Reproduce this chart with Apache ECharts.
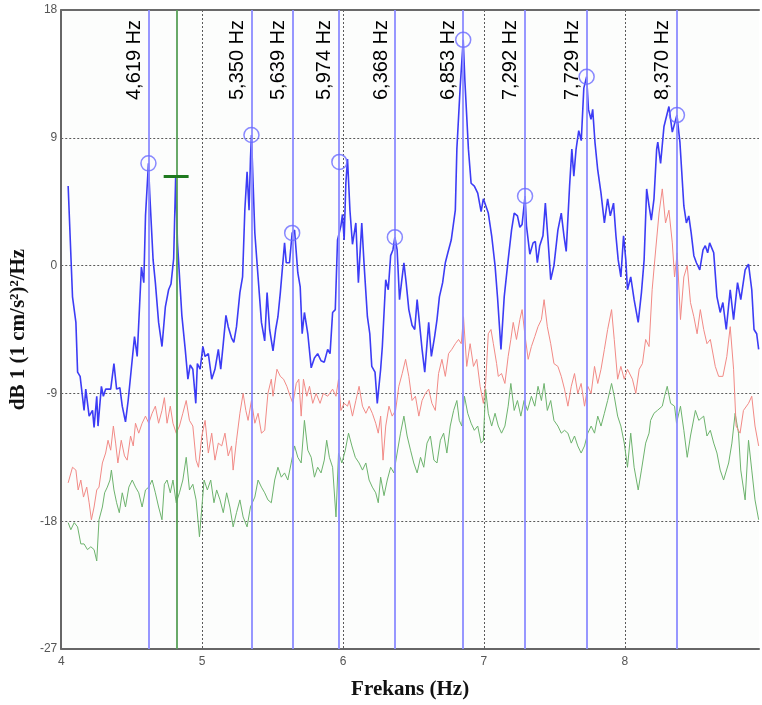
<!DOCTYPE html>
<html>
<head>
<meta charset="utf-8">
<script src="https://cdn.jsdelivr.net/npm/echarts@6/dist/echarts.min.js"></script>
<style>
html,body{margin:0;padding:0;background:#ffffff;}
#chart{width:762px;height:705px;}
</style>
</head>
<body>
<div id="chart"></div>
<script>
// Frequency axis ticks (Hz) and level ticks (dB)
const xTicks = [4, 5, 6, 7, 8];
const yTicks = [-27, -18, -9, 0, 9, 18];

// Picked spectral peaks
const peakFreqs = [4.619, 5.350, 5.639, 5.974, 6.368, 6.853, 7.292, 7.729, 8.370];
const peakDb    = [7.2, 9.2, 2.3, 7.3, 2.0, 15.9, 4.9, 13.3, 10.6];

// Cursor
const cursorFreq = 4.816;
const cursorDb = 6.3;
const cursorSpan = [4.727, 4.904];

// Spectrum traces: [frequency Hz, level dB]
const blueTrace = [
[4.049,5.6],[4.080,-2.2],[4.104,-4.0],[4.116,-7.5],[4.134,-7.8],[4.162,-10.2],[4.174,-8.7],[4.198,-10.6],
[4.222,-10.2],[4.233,-11.4],[4.252,-9.2],[4.261,-11.3],[4.285,-8.5],[4.299,-9.2],[4.315,-8.7],[4.351,-8.7],
[4.374,-6.9],[4.393,-8.7],[4.416,-8.6],[4.433,-9.9],[4.456,-11.0],[4.475,-9.5],[4.497,-7.3],[4.520,-5.0],
[4.539,-6.4],[4.557,-2.6],[4.569,-0.1],[4.586,-1.2],[4.598,3.5],[4.619,7.2],[4.628,5.1],[4.652,0.4],
[4.668,-1.2],[4.691,-4.0],[4.715,-5.7],[4.739,-2.9],[4.762,-1.7],[4.779,-1.3],[4.798,0.5],[4.812,6.2],
[4.825,1.6],[4.856,-3.5],[4.880,-5.9],[4.899,-8.0],[4.915,-7.0],[4.934,-7.3],[4.955,-9.7],[4.966,-6.9],
[4.986,-7.3],[5.005,-5.7],[5.021,-6.4],[5.044,-6.2],[5.068,-8.0],[5.091,-7.3],[5.115,-5.9],[5.132,-7.3],
[5.150,-5.5],[5.169,-3.5],[5.185,-4.3],[5.209,-5.1],[5.225,-5.4],[5.244,-4.3],[5.268,-1.9],[5.287,-0.8],
[5.303,3.9],[5.319,6.6],[5.333,3.9],[5.343,7.5],[5.350,9.2],[5.374,2.3],[5.397,-0.8],[5.421,-4.0],
[5.444,-5.3],[5.461,-1.9],[5.479,-4.5],[5.503,-6.0],[5.522,-4.5],[5.538,-3.6],[5.555,-1.9],[5.585,1.6],
[5.597,0.2],[5.620,0.2],[5.639,2.3],[5.656,2.5],[5.679,-0.5],[5.696,-1.5],[5.710,-4.8],[5.726,-3.3],
[5.750,-4.8],[5.774,-7.2],[5.797,-6.5],[5.820,-6.2],[5.844,-6.7],[5.867,-6.8],[5.891,-5.9],[5.908,-6.2],
[5.926,-3.3],[5.945,-3.1],[5.961,1.8],[5.985,2.8],[5.996,3.6],[6.008,1.8],[6.020,5.8],[6.032,7.5],
[6.049,3.9],[6.067,1.5],[6.091,3.0],[6.109,-1.2],[6.133,3.0],[6.150,0.0],[6.173,-3.6],[6.190,-4.8],
[6.204,-7.1],[6.227,-7.5],[6.243,-9.7],[6.267,-7.3],[6.279,-5.7],[6.303,-1.0],[6.321,-1.7],[6.338,0.7],
[6.354,1.1],[6.368,2.0],[6.384,1.1],[6.401,-2.4],[6.415,-1.2],[6.432,0.2],[6.448,-1.2],[6.467,-3.1],
[6.490,-4.2],[6.509,-4.5],[6.526,-2.4],[6.542,-4.0],[6.561,-5.9],[6.580,-7.5],[6.608,-4.0],[6.627,-6.4],
[6.650,-5.0],[6.667,-3.8],[6.684,-2.2],[6.707,-1.2],[6.726,0.2],[6.744,0.9],[6.768,1.8],[6.797,3.9],
[6.808,8.2],[6.831,12.5],[6.853,15.9],[6.865,13.0],[6.890,8.2],[6.909,5.8],[6.932,5.6],[6.956,5.1],
[6.980,3.8],[6.996,4.7],[7.031,3.7],[7.055,2.1],[7.079,0.0],[7.097,-2.3],[7.121,-5.9],[7.144,-2.2],
[7.172,0.4],[7.196,2.5],[7.215,3.7],[7.238,3.5],[7.255,2.7],[7.271,2.9],[7.292,4.9],[7.302,2.8],
[7.326,0.8],[7.349,1.6],[7.365,1.7],[7.379,0.2],[7.396,1.4],[7.419,2.1],[7.436,4.4],[7.455,1.8],
[7.474,-1.0],[7.497,0.0],[7.525,2.5],[7.549,3.7],[7.568,2.1],[7.584,1.0],[7.608,5.6],[7.624,8.2],
[7.638,6.3],[7.654,8.2],[7.673,9.5],[7.691,8.8],[7.709,12.5],[7.729,13.3],[7.742,11.0],[7.760,10.3],
[7.772,11.0],[7.788,8.7],[7.807,6.8],[7.831,5.1],[7.855,3.0],[7.878,4.7],[7.897,3.5],[7.920,4.4],
[7.937,2.1],[7.953,0.4],[7.972,-0.8],[7.991,2.1],[8.007,0.4],[8.019,-1.7],[8.042,-0.8],[8.066,-2.4],
[8.095,-4.0],[8.118,-1.9],[8.137,0.4],[8.155,5.4],[8.172,4.2],[8.188,3.2],[8.207,4.7],[8.226,8.2],
[8.234,8.7],[8.254,7.2],[8.278,9.8],[8.313,11.2],[8.337,9.4],[8.370,10.6],[8.391,8.7],[8.419,4.2],
[8.437,3.0],[8.454,3.5],[8.471,2.3],[8.490,0.7],[8.508,0.2],[8.532,-0.3],[8.555,1.1],[8.571,1.4],
[8.588,0.9],[8.602,1.6],[8.631,0.9],[8.654,-2.2],[8.677,-3.3],[8.696,-2.6],[8.720,-4.5],[8.748,-1.7],
[8.772,-3.8],[8.800,-1.2],[8.823,-2.4],[8.854,-0.3],[8.878,0.1],[8.901,-1.7],[8.917,-4.5],[8.936,-4.8],
[8.950,-5.9]
];

const redTrace = [
[4.049,-15.3],[4.080,-14.2],[4.104,-14.4],[4.120,-15.8],[4.139,-15.1],[4.158,-16.3],[4.181,-15.6],[4.198,-16.7],
[4.214,-17.9],[4.233,-17.0],[4.252,-15.8],[4.268,-15.6],[4.292,-13.9],[4.315,-13.2],[4.332,-12.3],[4.351,-13.0],
[4.370,-11.3],[4.386,-12.5],[4.402,-13.9],[4.426,-12.3],[4.449,-13.4],[4.468,-13.7],[4.492,-12.0],[4.511,-12.7],
[4.527,-11.1],[4.550,-11.8],[4.574,-11.1],[4.598,-10.6],[4.621,-11.1],[4.645,-10.4],[4.668,-9.9],[4.691,-11.1],
[4.715,-10.2],[4.732,-9.3],[4.751,-11.1],[4.774,-9.9],[4.793,-11.1],[4.816,-11.8],[4.839,-11.3],[4.863,-10.4],
[4.887,-9.5],[4.910,-10.9],[4.934,-11.3],[4.957,-13.7],[4.974,-14.2],[4.998,-12.0],[5.021,-10.9],[5.044,-13.2],
[5.068,-11.8],[5.091,-13.7],[5.115,-12.5],[5.139,-12.7],[5.162,-11.8],[5.185,-13.4],[5.209,-12.7],[5.220,-14.4],
[5.244,-12.3],[5.268,-10.4],[5.291,-9.0],[5.310,-10.2],[5.326,-10.9],[5.350,-9.5],[5.374,-11.1],[5.397,-10.4],
[5.421,-11.8],[5.444,-11.6],[5.467,-9.0],[5.491,-8.0],[5.503,-9.2],[5.531,-7.3],[5.555,-7.8],[5.578,-8.0],
[5.601,-8.5],[5.625,-9.2],[5.644,-9.7],[5.668,-8.3],[5.686,-8.0],[5.703,-10.6],[5.719,-8.0],[5.743,-9.2],
[5.762,-8.5],[5.785,-9.7],[5.809,-9.0],[5.837,-9.7],[5.860,-9.0],[5.891,-9.2],[5.926,-8.7],[5.950,-9.2],
[5.968,-8.0],[5.985,-10.2],[6.008,-9.7],[6.032,-9.9],[6.044,-9.5],[6.067,-10.6],[6.091,-9.5],[6.114,-8.5],
[6.138,-9.9],[6.162,-10.4],[6.185,-9.9],[6.208,-10.4],[6.232,-11.1],[6.250,-11.8],[6.267,-10.6],[6.284,-13.7],
[6.303,-11.3],[6.326,-9.9],[6.349,-10.6],[6.373,-10.2],[6.396,-8.5],[6.420,-7.6],[6.444,-6.6],[6.467,-7.8],
[6.490,-9.5],[6.514,-9.2],[6.538,-10.6],[6.561,-9.5],[6.585,-9.0],[6.608,-8.7],[6.631,-9.7],[6.655,-10.2],
[6.678,-7.6],[6.702,-6.6],[6.726,-7.8],[6.749,-6.2],[6.772,-5.9],[6.797,-5.5],[6.820,-5.2],[6.839,-5.5],
[6.855,-3.6],[6.878,-7.1],[6.902,-5.5],[6.926,-7.1],[6.949,-6.6],[6.973,-8.5],[6.996,-9.7],[7.012,-8.3],
[7.031,-4.8],[7.050,-4.5],[7.067,-5.5],[7.090,-6.9],[7.102,-7.8],[7.125,-7.6],[7.149,-8.3],[7.172,-6.4],
[7.191,-5.2],[7.208,-4.0],[7.231,-5.2],[7.255,-3.8],[7.271,-3.1],[7.290,-4.8],[7.314,-6.6],[7.337,-5.7],
[7.361,-5.0],[7.384,-4.3],[7.408,-3.8],[7.427,-2.4],[7.450,-4.3],[7.474,-5.5],[7.497,-6.9],[7.525,-7.1],
[7.549,-7.8],[7.572,-8.7],[7.596,-9.9],[7.620,-8.5],[7.643,-7.6],[7.666,-9.0],[7.690,-8.3],[7.714,-9.9],
[7.737,-8.5],[7.761,-9.0],[7.785,-7.1],[7.808,-8.3],[7.831,-7.3],[7.855,-5.9],[7.878,-4.5],[7.906,-3.1],
[7.925,-5.2],[7.949,-8.0],[7.972,-7.1],[7.996,-8.0],[8.019,-7.3],[8.054,-8.0],[8.078,-9.0],[8.102,-7.3],
[8.125,-6.9],[8.148,-5.2],[8.172,-5.7],[8.194,-1.7],[8.219,1.1],[8.243,3.7],[8.266,5.4],[8.289,3.0],
[8.313,3.9],[8.337,1.6],[8.353,-0.8],[8.372,0.9],[8.395,-3.8],[8.419,-0.8],[8.443,0.0],[8.466,-2.6],
[8.490,-3.6],[8.513,-4.8],[8.536,-3.1],[8.560,-4.5],[8.583,-5.5],[8.607,-5.2],[8.642,-7.1],[8.666,-7.8],
[8.696,-7.8],[8.724,-6.4],[8.748,-4.3],[8.772,-7.3],[8.790,-11.3],[8.818,-11.8],[8.842,-10.2],[8.878,-9.7],
[8.901,-9.2],[8.924,-11.3],[8.950,-12.7]
];

const greenTrace = [
[4.049,-18.1],[4.068,-18.6],[4.092,-18.1],[4.116,-18.4],[4.139,-19.6],[4.162,-19.6],[4.186,-20.0],[4.210,-19.8],
[4.233,-20.0],[4.252,-20.8],[4.268,-17.9],[4.292,-17.0],[4.308,-16.0],[4.327,-15.6],[4.346,-15.1],[4.356,-14.4],
[4.374,-15.8],[4.393,-16.7],[4.412,-17.4],[4.433,-16.0],[4.456,-17.0],[4.480,-15.6],[4.504,-15.1],[4.527,-15.6],
[4.550,-16.0],[4.574,-17.0],[4.598,-15.8],[4.621,-15.6],[4.645,-15.1],[4.668,-16.0],[4.691,-17.0],[4.715,-17.9],
[4.732,-15.4],[4.751,-15.1],[4.774,-16.0],[4.793,-15.1],[4.816,-16.7],[4.839,-16.0],[4.863,-15.1],[4.887,-13.5],
[4.910,-15.8],[4.934,-15.4],[4.957,-16.5],[4.981,-19.1],[4.998,-17.0],[5.014,-15.1],[5.037,-15.8],[5.061,-15.1],
[5.084,-16.7],[5.103,-15.8],[5.127,-16.5],[5.150,-17.4],[5.174,-16.0],[5.197,-17.0],[5.220,-18.4],[5.244,-17.4],
[5.268,-16.5],[5.291,-17.7],[5.319,-18.4],[5.343,-17.0],[5.374,-16.3],[5.397,-15.1],[5.421,-15.6],[5.444,-16.0],
[5.467,-16.5],[5.491,-16.7],[5.515,-15.1],[5.538,-14.2],[5.562,-14.9],[5.585,-14.6],[5.608,-15.1],[5.632,-13.9],
[5.656,-12.7],[5.679,-13.5],[5.703,-13.9],[5.726,-10.9],[5.750,-13.0],[5.774,-13.5],[5.797,-14.9],[5.820,-14.2],
[5.844,-14.6],[5.867,-13.7],[5.884,-12.3],[5.903,-13.5],[5.926,-14.2],[5.950,-17.7],[5.968,-13.2],[5.992,-13.9],
[6.016,-13.0],[6.039,-11.8],[6.063,-12.7],[6.087,-13.5],[6.114,-13.9],[6.138,-14.4],[6.162,-13.9],[6.185,-15.1],
[6.208,-15.6],[6.232,-16.0],[6.250,-16.7],[6.267,-14.9],[6.291,-16.2],[6.314,-15.1],[6.338,-14.2],[6.361,-14.6],
[6.384,-13.2],[6.408,-11.8],[6.432,-10.6],[6.455,-12.0],[6.479,-13.0],[6.502,-13.9],[6.526,-14.6],[6.550,-13.5],
[6.573,-14.2],[6.596,-12.5],[6.620,-12.0],[6.645,-13.7],[6.667,-13.9],[6.691,-12.3],[6.714,-11.8],[6.737,-13.2],
[6.761,-11.3],[6.785,-10.2],[6.808,-9.5],[6.825,-10.9],[6.843,-11.3],[6.862,-9.2],[6.885,-10.4],[6.909,-11.1],
[6.932,-11.6],[6.956,-11.3],[6.980,-12.5],[6.996,-12.3],[7.012,-8.7],[7.031,-10.4],[7.055,-11.3],[7.079,-10.4],
[7.102,-11.3],[7.125,-11.8],[7.149,-11.3],[7.172,-9.9],[7.191,-8.3],[7.215,-10.2],[7.238,-9.5],[7.262,-10.6],
[7.285,-9.5],[7.309,-10.2],[7.337,-9.2],[7.361,-9.9],[7.384,-8.5],[7.408,-9.5],[7.427,-8.3],[7.450,-10.2],
[7.474,-9.5],[7.497,-10.9],[7.525,-11.3],[7.549,-11.8],[7.572,-11.6],[7.596,-11.8],[7.620,-12.5],[7.643,-12.0],
[7.666,-12.7],[7.690,-13.2],[7.714,-12.7],[7.737,-11.8],[7.761,-11.3],[7.785,-11.8],[7.808,-10.6],[7.831,-11.3],
[7.855,-10.4],[7.878,-9.5],[7.906,-8.3],[7.925,-9.2],[7.949,-10.6],[7.972,-11.3],[7.996,-12.5],[8.019,-14.2],
[8.042,-11.8],[8.066,-14.2],[8.095,-15.8],[8.118,-14.4],[8.148,-12.5],[8.172,-11.8],[8.183,-10.9],[8.207,-10.4],
[8.231,-10.2],[8.266,-9.9],[8.282,-9.2],[8.301,-8.5],[8.325,-9.7],[8.353,-9.9],[8.367,-11.1],[8.395,-9.9],
[8.419,-11.6],[8.443,-13.5],[8.466,-12.0],[8.501,-10.2],[8.525,-10.9],[8.560,-10.6],[8.583,-12.0],[8.607,-11.6],
[8.631,-12.5],[8.654,-13.2],[8.677,-14.4],[8.701,-15.1],[8.737,-13.9],[8.760,-12.5],[8.783,-10.4],[8.807,-11.8],
[8.823,-14.4],[8.854,-16.5],[8.878,-12.3],[8.901,-14.4],[8.924,-16.5],[8.950,-17.9]
];

const fmtHz = f => f.toFixed(3).replace('.', ',') + ' Hz';

const chart = echarts.init(document.getElementById('chart'), null, {renderer: 'canvas'});

const gridLine = {
  show: true, showMinLine: false, showMaxLine: false,
  lineStyle: {color: '#5a5a5a', width: 1, type: [2, 2]}
};

// plot scale: 141.75 px per Hz; the plot runs to the right edge of the canvas
const plotWidth = 702;
const xMax = 4 + plotWidth / 141.75;

chart.setOption({
  animation: false,
  backgroundColor: '#ffffff',
  grid: {
    left: 60, top: 10, right: 0, height: 639,
    show: true, backgroundColor: '#fcfdfc', borderWidth: 0
  },
  xAxis: [
    {
      type: 'value', min: xTicks[0], max: xMax, interval: 1,
      name: 'Frekans (Hz)', nameLocation: 'middle', nameGap: 30,
      nameTextStyle: {fontFamily: 'Liberation Serif', fontWeight: 'bold', fontSize: 21, color: '#111'},
      axisLine: {show: true, onZero: false, lineStyle: {color: '#666', width: 2}},
      axisTick: {show: false},
      axisLabel: {
        color: '#555', fontSize: 12, fontFamily: 'Liberation Sans', margin: 7,
        formatter: v => (xTicks.indexOf(v) >= 0 ? String(v) : '')
      },
      splitLine: gridLine
    },
    {
      // top frame line
      type: 'value', position: 'top', min: xTicks[0], max: xMax,
      axisLine: {show: true, onZero: false, lineStyle: {color: '#6a6a6a', width: 2}},
      axisTick: {show: false}, axisLabel: {show: false}, splitLine: {show: false}
    }
  ],
  yAxis: {
    type: 'value', min: yTicks[0], max: yTicks[yTicks.length - 1], interval: 9,
    name: 'dB 1 (1 cm/s²)²/Hz', nameLocation: 'middle', nameGap: 29, nameRotate: 90,
    nameTextStyle: {fontFamily: 'Liberation Serif', fontWeight: 'bold', fontSize: 21, color: '#111'},
    axisLine: {show: true, onZero: false, lineStyle: {color: '#666', width: 2}},
    axisTick: {show: false},
    axisLabel: {color: '#555', fontSize: 12, fontFamily: 'Liberation Sans', margin: 4},
    splitLine: gridLine
  },
  series: [
    {
      name: 'green', type: 'line', data: greenTrace, showSymbol: false,
      lineStyle: {color: '#6db36d', width: 1}, z: 2,
      markLine: {
        silent: true, symbol: 'none', animation: false,
        label: {show: false},
        data: [
          {xAxis: cursorFreq, lineStyle: {color: '#58a058', width: 1.8, type: 'solid'}},
          [
            {coord: [cursorSpan[0], cursorDb], lineStyle: {color: '#1f7a1f', width: 3, type: 'solid'}},
            {coord: [cursorSpan[1], cursorDb]}
          ]
        ]
      }
    },
    {
      name: 'red', type: 'line', data: redTrace, showSymbol: false,
      lineStyle: {color: '#f28a86', width: 1}, z: 3
    },
    {
      name: 'blue', type: 'line', data: blueTrace, showSymbol: false,
      lineStyle: {color: '#3c3cf5', width: 1.6}, z: 4,
      markLine: {
        silent: true, symbol: 'none', animation: false,
        lineStyle: {color: '#8c8cff', width: 1.8, type: 'solid'},
        label: {
          show: true, position: 'insideEndTop', distance: [10, 4],
          formatter: '{b}',
          fontFamily: 'Liberation Sans', fontSize: 20, color: '#000'
        },
        data: peakFreqs.map(f => ({xAxis: f, name: fmtHz(f)}))
      }
    },
    {
      name: 'peaks', type: 'scatter', z: 5,
      data: peakFreqs.map((f, i) => [f, peakDb[i]]),
      symbol: 'circle', symbolSize: 15,
      itemStyle: {color: 'rgba(0,0,0,0)', borderColor: '#6a6aff', borderWidth: 1.5}
    }
  ]
});
</script>
</body>
</html>
